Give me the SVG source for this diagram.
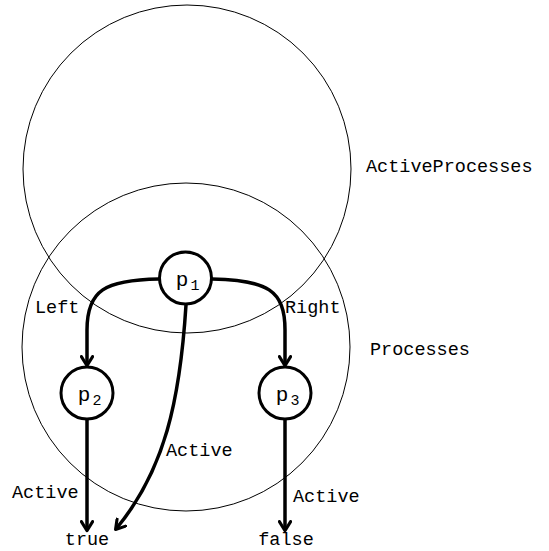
<svg xmlns="http://www.w3.org/2000/svg" width="549" height="551" viewBox="0 0 549 551">
<style>
.set{fill:none;stroke:#000;stroke-width:1}
.node{fill:#fff;stroke:#000;stroke-width:3}
.edge{fill:none;stroke:#000;stroke-width:3.5;marker-end:url(#arr)}
text{font-family:"Liberation Mono","Courier New",monospace;font-size:18.5px;fill:#000}
.nl{font-size:21px}
.sub{font-size:15px}
</style>
<defs>
<marker id="arr" viewBox="0 0 10 10" refX="7" refY="5" markerWidth="4" markerHeight="4" orient="auto" markerUnits="strokeWidth">
<path d="M1,1 L7.5,5 L1,9" fill="none" stroke="#000" stroke-width="2.2" stroke-linecap="round" stroke-linejoin="round"/>
</marker>
</defs>
<rect width="549" height="551" fill="#fff"/>
<g id="sets">
<circle class="set" cx="187" cy="169" r="164"/>
<circle class="set" cx="186" cy="347" r="164"/>
<text x="366" y="172">ActiveProcesses</text>
<text x="370" y="355">Processes</text>
</g>
<g id="connectors">
<path class="edge" d="M159,279 C105,280 87,290 87,330 L87,365"/>
<path class="edge" d="M212,279 C267,280 285,290 285,330 L285,365"/>
<path class="edge" d="M186,305 C180,400 165,470 116,529"/>
<path class="edge" d="M87,420 L87,530"/>
<path class="edge" d="M285,420 L285,530"/>
<text x="35" y="313">Left</text>
<text x="285" y="313">Right</text>
<text x="166" y="456">Active</text>
<text x="12" y="498">Active</text>
<text x="293" y="502">Active</text>
</g>
<g id="p1">
<circle class="node" cx="185.5" cy="278" r="26"/>
<text class="nl" x="182" y="286" text-anchor="middle">p</text><text class="sub" x="195" y="290" text-anchor="middle">1</text>
</g>
<g id="p2">
<circle class="node" cx="87" cy="393" r="26"/>
<text class="nl" x="84" y="401" text-anchor="middle">p</text><text class="sub" x="97" y="405" text-anchor="middle">2</text>
</g>
<g id="p3">
<circle class="node" cx="285" cy="393" r="26"/>
<text class="nl" x="282" y="401" text-anchor="middle">p</text><text class="sub" x="295" y="405" text-anchor="middle">3</text>
</g>
<g id="true"><text x="87" y="545" text-anchor="middle">true</text></g>
<g id="false"><text x="286" y="545" text-anchor="middle">false</text></g>
</svg>
